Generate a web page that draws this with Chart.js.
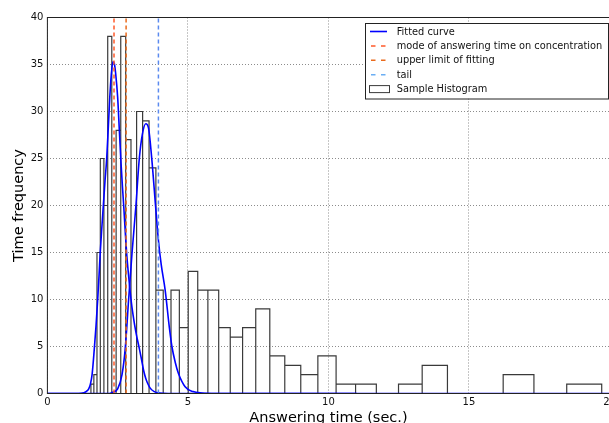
<!DOCTYPE html>
<html>
<head>
<meta charset="utf-8">
<script src="https://cdn.jsdelivr.net/npm/chart.js@4.4.1/dist/chart.umd.min.js"></script>
<style>
  html, body { margin: 0; padding: 0; background: #fff; overflow: hidden; width: 609px; height: 423px; }
  canvas { display: block; }
</style>
</head>
<body>
<canvas id="c" width="612" height="428"></canvas>
<script>
// ---- Data ----
// Histogram bin edges (sec.) and counts
const binEdges = [1.451, 1.549, 1.653, 1.764, 1.883, 2.010, 2.146, 2.291, 2.445, 2.610,
  2.786, 2.974, 3.174, 3.388, 3.617, 3.860, 4.121, 4.398, 4.695, 5.011,
  5.349, 5.710, 6.095, 6.506, 6.945, 7.413, 7.913, 8.446, 9.015, 9.623,
  10.272, 10.965, 11.704, 12.493, 13.335, 14.234, 15.193, 16.217, 17.311, 18.478, 19.723];
const binCounts = [0, 1, 2, 15, 25, 20, 38, 0, 28, 38,
  27, 25, 30, 29, 24, 11, 10, 11, 7, 13,
  11, 11, 7, 6, 7, 9, 4, 3, 2, 4,
  1, 1, 0, 1, 3, 0, 0, 2, 0, 1];

// Fitted curve, first component (x, y)
const curve1X = [0, 1.0, 1.2, 1.3, 1.4, 1.47, 1.53, 1.59, 1.67, 1.73, 1.79, 1.84, 1.88, 1.94, 1.99, 2.05, 2.11, 2.17, 2.22, 2.27, 2.33, 2.38, 2.43, 2.5, 2.56, 2.62, 2.67, 2.715, 2.77, 2.82, 2.9, 2.975, 3.05, 3.15, 3.27, 3.35, 3.42, 3.5, 3.55, 3.65, 3.8, 4.0, 4.3, 11];
const curve1Y = [0, 0, 0.02, 0.08, 0.25, 0.5, 1.0, 2.0, 4.8, 7.2, 10, 12.7, 15, 17.8, 20, 22.6, 25, 28.5, 31.5, 33.8, 35.3, 35.1, 34, 31.5, 28, 24.5, 22, 20, 17.2, 14.9, 12.2, 10, 8.3, 6.5, 4.8, 3.6, 2.5, 1.6, 1.2, 0.6, 0.2, 0.05, 0, 0];
// Fitted curve, second component (x, y)
const curve2X = [0, 2.2, 2.3, 2.5, 2.655, 2.77, 2.89, 3.01, 3.15, 3.27, 3.38, 3.5, 3.6, 3.71, 3.85, 3.95, 4.05, 4.19, 4.34, 4.43, 4.55, 4.66, 4.9, 5.18, 5.5, 6.0, 20];
const curve2Y = [0, 0, 0.1, 0.5, 2.0, 4.8, 10, 14.9, 20, 25, 27.6, 28.7, 28.2, 25.1, 19.9, 16.3, 13.7, 11, 7, 5, 3.3, 2.15, 0.72, 0.2, 0.05, 0, 0];

// Vertical reference lines (sec.)
const modeTime = 2.37;
const upperLimit = 2.8;
const tailTime = 3.95;

// Axis ticks
const xTicks = [0, 5, 10, 15, 20];
const yTicks = [0, 5, 10, 15, 20, 25, 30, 35, 40];

const legendLabels = ['Fitted curve', 'mode of answering time on concentration', 'upper limit of fitting', 'tail', 'Sample Histogram'];

// ---- Build datasets ----
function zipXY(xs, ys) { return xs.map((x, i) => ({ x: x, y: ys[i] })); }
function histOutline(edges, counts) {
  const pts = [];
  for (let i = 0; i < counts.length; i++) {
    pts.push({ x: edges[i], y: 0 });
    pts.push({ x: edges[i], y: counts[i] });
    pts.push({ x: edges[i + 1], y: counts[i] });
    pts.push({ x: edges[i + 1], y: 0 });
  }
  return pts;
}
function vline(x) { return [{ x: x, y: 0 }, { x: x, y: 40 }]; }

const COL = {
  curve: '#0000ff',
  mode: '#ff5a2a',
  upper: '#ea6a1c',
  tail: '#5b8aef',
  hist: '#3a3a3a'
};

const datasets = [
  { label: legendLabels[4], data: histOutline(binEdges, binCounts), borderColor: COL.hist, borderWidth: 1.2, tension: 0, order: 5 },
  { label: legendLabels[0], data: zipXY(curve1X, curve1Y), borderColor: COL.curve, borderWidth: 1.6, cubicInterpolationMode: 'monotone', order: 4 },
  { label: legendLabels[0] + ' (2)', data: zipXY(curve2X, curve2Y), borderColor: COL.curve, borderWidth: 1.6, cubicInterpolationMode: 'monotone', order: 3 },
  { label: legendLabels[1], data: vline(modeTime), borderColor: COL.mode, borderWidth: 1.5, borderDash: [4, 3], order: 2 },
  { label: legendLabels[2], data: vline(upperLimit), borderColor: COL.upper, borderWidth: 1.5, borderDash: [4, 3], order: 1 },
  { label: legendLabels[3], data: vline(tailTime), borderColor: COL.tail, borderWidth: 1.5, borderDash: [4, 3], order: 0 }
];
datasets.forEach(d => { d.pointRadius = 0; d.pointHoverRadius = 0; d.fill = false; });

const FONT = 'DejaVu Sans';

// Frame around the axes (matplotlib-like spines)
const framePlugin = {
  id: 'frame',
  afterDatasetsDraw(chart) {
    const a = chart.chartArea, ctx = chart.ctx;
    ctx.save();
    ctx.strokeStyle = '#222';
    ctx.lineWidth = 1;
    ctx.strokeRect(a.left, a.top, a.right - a.left, a.bottom - a.top);
    ctx.restore();
  }
};

// Legend box inside the axes, upper right
const legendPlugin = {
  id: 'boxLegend',
  afterDraw(chart) {
    const ctx = chart.ctx;
    const box = { x: 365, y: 23, w: 243, h: 75.5 };
    ctx.save();
    ctx.fillStyle = '#fff';
    ctx.fillRect(box.x, box.y, box.w, box.h);
    ctx.strokeStyle = '#222';
    ctx.lineWidth = 1;
    ctx.strokeRect(box.x + 0.5, box.y + 0.5, box.w, box.h);
    const rows = [
      { label: legendLabels[0], color: COL.curve, type: 'line' },
      { label: legendLabels[1], color: COL.mode, type: 'dash' },
      { label: legendLabels[2], color: COL.upper, type: 'dash' },
      { label: legendLabels[3], color: '#6aaef4', type: 'dash' },
      { label: legendLabels[4], color: COL.hist, type: 'rect' }
    ];
    ctx.font = '9.8px "' + FONT + '"';
    ctx.textBaseline = 'middle';
    ctx.textAlign = 'left';
    rows.forEach((r, i) => {
      const cy = 31.5 + i * 14.4;
      ctx.strokeStyle = r.color;
      if (r.type === 'line') {
        ctx.lineWidth = 1.6;
        ctx.setLineDash([]);
        ctx.beginPath(); ctx.moveTo(370, cy); ctx.lineTo(387, cy); ctx.stroke();
      } else if (r.type === 'dash') {
        ctx.lineWidth = 1.5;
        ctx.setLineDash([4.5, 5.5]);
        ctx.beginPath(); ctx.moveTo(371, cy); ctx.lineTo(387, cy); ctx.stroke();
        ctx.setLineDash([]);
      } else {
        ctx.lineWidth = 1;
        ctx.strokeRect(369.5, cy - 3.5, 20, 7);
      }
      ctx.fillStyle = '#111';
      ctx.fillText(r.label, 396.7, cy + 0.5);
    });
    ctx.restore();
  }
};

new Chart(document.getElementById('c'), {
  type: 'line',
  data: { datasets: datasets },
  plugins: [framePlugin, legendPlugin],
  options: {
    responsive: false,
    animation: false,
    devicePixelRatio: 1,
    layout: { padding: { left: 0, top: 17.5, right: 2.5, bottom: 0 } },
    plugins: { legend: { display: false }, tooltip: { enabled: false } },
    scales: {
      x: {
        type: 'linear', min: 0, max: 20,
        afterBuildTicks(s) { s.ticks = xTicks.map(v => ({ value: v })); },
        afterFit(s) { s.height = 34.5; s.paddingLeft = 0; s.paddingRight = 0; },
        grid: { color: 'rgba(0,0,0,0.45)', lineWidth: 1, drawTicks: false },
        border: { display: false, dash: [1, 2] },
        ticks: { color: '#111', font: { family: FONT, size: 10 }, padding: 3, maxRotation: 0, autoSkip: false },
        title: { display: true, text: 'Answering time (sec.)', color: '#000', font: { family: FONT, size: 14.5 }, padding: { top: 0, bottom: 1 } }
      },
      y: {
        type: 'linear', min: 0, max: 40,
        afterBuildTicks(s) { s.ticks = yTicks.map(v => ({ value: v })); },
        afterFit(s) { s.width = 47.4; s.paddingTop = 0; s.paddingBottom = 0; },
        grid: { color: 'rgba(0,0,0,0.45)', lineWidth: 1, drawTicks: false },
        border: { display: false, dash: [1, 2] },
        ticks: { color: '#111', font: { family: FONT, size: 10 }, padding: 4, autoSkip: false },
        title: { display: true, text: 'Time frequency', color: '#000', font: { family: FONT, size: 14.5 }, padding: { top: 10.5, bottom: 0 } }
      }
    }
  }
});
</script>
</body>
</html>
